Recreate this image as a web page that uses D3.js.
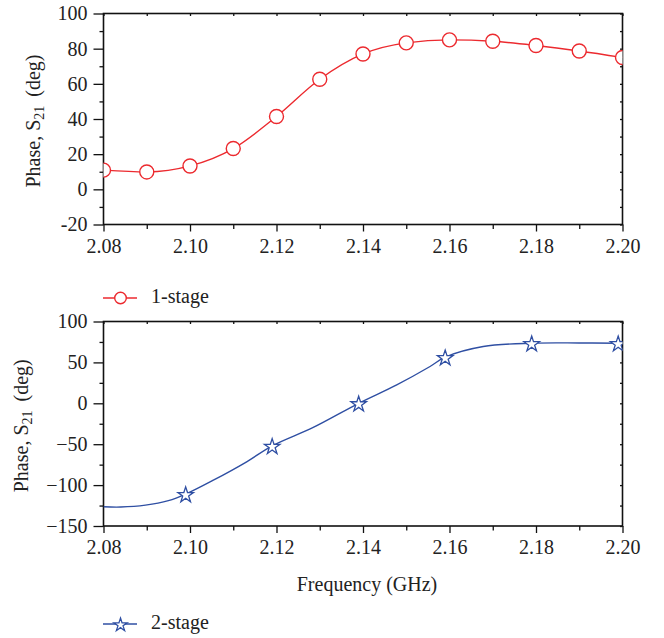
<!DOCTYPE html>
<html>
<head>
<meta charset="utf-8">
<script src="https://cdn.jsdelivr.net/npm/d3@7"></script>
<style>
  body { margin: 0; background: #fff; }
  svg text { font-family: "Liberation Serif", "DejaVu Serif", serif; fill: #222; }
</style>
</head>
<body>
<div class="container"></div>
<script>
// 1-stage: measured points (circles sit on the line)
const freq1 = [2.08, 2.09, 2.10, 2.11, 2.12, 2.13, 2.14, 2.15, 2.16, 2.17, 2.18, 2.19, 2.20];
const phase1 = [10.9, 9.9, 13.3, 23.2, 41.4, 62.6, 77.0, 83.3, 85.0, 84.2, 81.8, 78.7, 75.0];

// 2-stage: traced curve and the star markers
const freq2Line = [2.08, 2.084, 2.0897, 2.095, 2.099, 2.1054, 2.1131, 2.119, 2.1285, 2.139, 2.1478, 2.1555, 2.159, 2.1678, 2.179, 2.19, 2.199, 2.20];
const phase2Line = [-126.5, -126.8, -124.5, -119, -111, -94, -71.5, -52, -29.5, 0, 22.5, 45, 56.4, 69.4, 73.5, 73.8, 73.5, 73.3];
const freq2Mark = [2.099, 2.119, 2.139, 2.159, 2.179, 2.199];
const phase2Mark = [-111, -52, 0, 56.4, 73.5, 73.5];

const xTicks = [2.08, 2.10, 2.12, 2.14, 2.16, 2.18, 2.20];
const xMinor = [2.09, 2.11, 2.13, 2.15, 2.17, 2.19];
const yTicks1 = [-20, 0, 20, 40, 60, 80, 100];
const yTicks2 = [-150, -100, -50, 0, 50, 100];

const red = '#ec2a2f';
const blue = '#2f4fa3';

const width = 664;
const height = 638;
const left = 103.5, right = 622.5;
const fs = 20;

const svg = d3.select('.container')
    .append('svg')
    .attr('width', width)
    .attr('height', height);

function panel(opts) {
    const x = d3.scaleLinear().domain([2.08, 2.20]).range([left, right]);
    const y = d3.scaleLinear().domain(opts.ydomain).range([opts.bottom, opts.top]);
    const g = svg.append('g');

    const clipId = 'clip' + opts.id;
    svg.append('clipPath').attr('id', clipId)
        .append('rect')
        .attr('x', left).attr('y', opts.top)
        .attr('width', right - left).attr('height', opts.bottom - opts.top);

    const yMinor = d3.range(opts.ydomain[0], opts.ydomain[1] + 0.1, opts.ystep / 2)
        .filter(v => !opts.yticks.includes(v));

    // bottom axis: ticks outward
    g.append('g')
        .attr('transform', `translate(0,${opts.bottom})`)
        .call(d3.axisBottom(x).tickValues(xTicks).tickSize(7).tickPadding(7).tickFormat(d3.format('.2f')))
        .call(a => a.select('.domain').remove())
        .call(a => a.selectAll('text').attr('font-size', fs).attr('fill', '#222'));
    g.append('g')
        .attr('transform', `translate(0,${opts.bottom})`)
        .call(d3.axisBottom(x).tickValues(xMinor).tickSize(4.5).tickFormat(''))
        .call(a => a.select('.domain').remove());
    // top axis: small inward ticks
    g.append('g')
        .attr('transform', `translate(0,${opts.top})`)
        .call(d3.axisBottom(x).tickValues(xTicks.concat(xMinor)).tickSize(2.5).tickFormat(''))
        .call(a => a.select('.domain').remove());

    // left axis: ticks outward
    g.append('g')
        .attr('transform', `translate(${left},0)`)
        .call(d3.axisLeft(y).tickValues(opts.yticks).tickSize(10).tickPadding(6).tickFormat(opts.yfmt))
        .call(a => a.select('.domain').remove())
        .call(a => a.selectAll('text').attr('font-size', fs).attr('fill', '#222'));
    g.append('g')
        .attr('transform', `translate(${left},0)`)
        .call(d3.axisLeft(y).tickValues(yMinor).tickSize(4).tickFormat(''))
        .call(a => a.select('.domain').remove());
    // right axis: small inward ticks
    g.append('g')
        .attr('transform', `translate(${right},0)`)
        .call(d3.axisLeft(y).tickValues(opts.yticks.concat(yMinor)).tickSize(2.5).tickFormat(''))
        .call(a => a.select('.domain').remove());

    g.selectAll('.tick line').attr('stroke', '#111').attr('stroke-width', 1.3);

    // frame
    g.append('rect')
        .attr('x', left).attr('y', opts.top)
        .attr('width', right - left).attr('height', opts.bottom - opts.top)
        .attr('fill', 'none').attr('stroke', '#111').attr('stroke-width', 1.6);

    // y label
    const lab = g.append('text')
        .attr('transform', `translate(${opts.ylabelX},${(opts.top + opts.bottom) / 2 + 2}) rotate(-90)`)
        .attr('text-anchor', 'middle')
        .attr('font-size', fs);
    lab.append('tspan').text('Phase, S');
    lab.append('tspan').attr('font-size', 14).attr('dy', 4).text('21');
    lab.append('tspan').attr('dy', -4).text('\u2009 (deg)');

    const plot = svg.append('g').attr('clip-path', `url(#${clipId})`);
    return { x, y, plot };
}

// top panel
const p1 = panel({ id: 1, top: 13.5, bottom: 224.5, ydomain: [-20, 100], ystep: 20, yticks: yTicks1,
    yfmt: d => (d < 0 ? '-' + Math.abs(d) : d), ylabelX: 40 });

p1.plot.append('path')
    .datum(freq1.map((f, i) => [f, phase1[i]]))
    .attr('d', d3.line().x(d => p1.x(d[0])).y(d => p1.y(d[1])).curve(d3.curveMonotoneX))
    .attr('fill', 'none').attr('stroke', red).attr('stroke-width', 1.4);

p1.plot.selectAll('.circ')
    .data(freq1.map((f, i) => [f, phase1[i]]))
    .enter()
    .append('circle')
    .attr('class', 'circ')
    .attr('cx', d => p1.x(d[0]))
    .attr('cy', d => p1.y(d[1]))
    .attr('r', 7)
    .attr('fill', '#fff').attr('stroke', red).attr('stroke-width', 1.4);

// bottom panel
const p2 = panel({ id: 2, top: 321.5, bottom: 526, ydomain: [-150, 100], ystep: 50, yticks: yTicks2,
    yfmt: d => (d < 0 ? '\u2212' + Math.abs(d) : d), ylabelX: 28 });

p2.plot.append('path')
    .datum(freq2Line.map((f, i) => [f, phase2Line[i]]))
    .attr('d', d3.line().x(d => p2.x(d[0])).y(d => p2.y(d[1])).curve(d3.curveCatmullRom))
    .attr('fill', 'none').attr('stroke', blue).attr('stroke-width', 1.4);

const star = d3.symbol().type(d3.symbolStar).size(75);
p2.plot.selectAll('.star')
    .data(freq2Mark.map((f, i) => [f, phase2Mark[i]]))
    .enter()
    .append('path')
    .attr('class', 'star')
    .attr('d', star)
    .attr('transform', d => `translate(${p2.x(d[0])},${p2.y(d[1]) + 1})`)
    .attr('fill', '#fff').attr('stroke', blue).attr('stroke-width', 1.3);

svg.append('text')
    .attr('x', 367).attr('y', 591)
    .attr('text-anchor', 'middle')
    .attr('font-size', fs)
    .text('Frequency (GHz)');

// legends
function legend(y, color, marker, label) {
    const g = svg.append('g');
    g.append('line').attr('x1', 103).attr('x2', 137).attr('y1', y).attr('y2', y)
        .attr('stroke', color).attr('stroke-width', 1.4);
    if (marker === 'circle') {
        g.append('circle').attr('cx', 120.5).attr('cy', y).attr('r', 5.8)
            .attr('fill', '#fff').attr('stroke', color).attr('stroke-width', 1.4);
    } else {
        g.append('path').attr('d', d3.symbol().type(d3.symbolStar).size(55))
            .attr('transform', `translate(120.5,${y + 1})`)
            .attr('fill', '#fff').attr('stroke', color).attr('stroke-width', 1.3);
    }
    g.append('text').attr('x', 151).attr('y', y + 5).attr('font-size', fs).text(label);
}
legend(298, red, 'circle', '1-stage');
legend(624, blue, 'star', '2-stage');
</script>
</body>
</html>
